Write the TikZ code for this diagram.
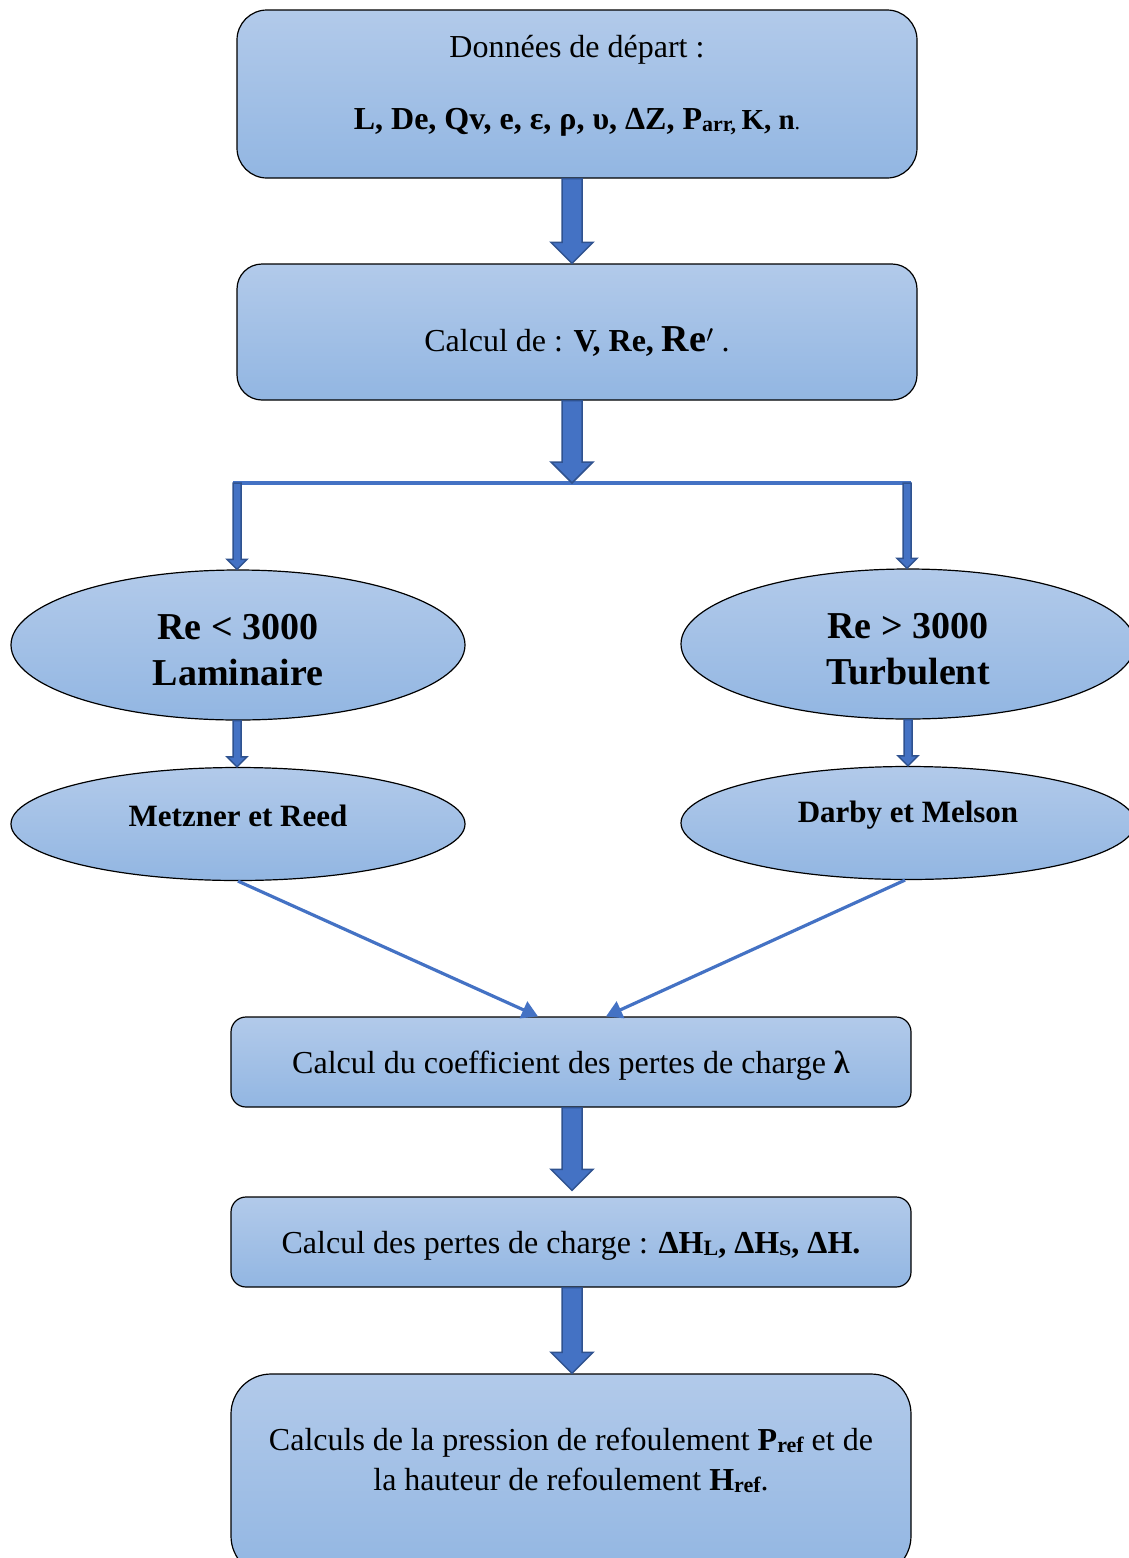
\documentclass[tikz,border=0pt]{standalone}
\usepackage{fontspec}
\setmainfont{Liberation Serif}
\usetikzlibrary{shapes.geometric,arrows.meta,calc}
\definecolor{gtop}{RGB}{178,202,234}
\definecolor{gbot}{RGB}{146,182,226}
\definecolor{abl}{RGB}{68,114,196}
\definecolor{abd}{RGB}{47,82,143}
\newcommand\sbx[1]{\raisebox{-2pt}{\fontsize{22}{22}\selectfont #1}}
\newcommand\blockarr[5]{%
  \draw[blk] let \p1=(#1), \p2=(#2) in
    (\x1-#3,\y1) -- (\x1+#3,\y1) -- (\x1+#3,\y2+#5) -- (\x1+#4,\y2+#5)
    -- (\x1,\y2) -- (\x1-#4,\y2+#5) -- (\x1-#3,\y2+#5) -- cycle;}
\begin{document}
\begin{tikzpicture}[x=1pt,y=-1pt,
  box/.style={draw=black, line width=1.2pt, top color=gtop, bottom color=gbot,
    inner sep=0pt, align=center, font=\fontsize{32}{38}\selectfont},
  oval/.style={ellipse, draw=black, line width=1.2pt, top color=gtop, bottom color=gbot,
    inner sep=0pt, align=center, minimum width=454pt},
  txt/.style={inner sep=0pt, align=center, font=\fontsize{32}{40}\selectfont},
  blk/.style={fill=abl, draw=abd, line width=1.5pt, line join=miter},
  link/.style={draw=abl, line width=3.2pt, -{Triangle[width=18pt,length=16pt]}}]
\clip (0,0) rectangle (1129,1558);
% boxes
\node[box, rounded corners=30pt, minimum width=680pt, minimum height=168pt] (b1) at (577,94) {};
\node[txt] (t1a) at (577,50) {Données de départ :};
\node[txt] (t1b) at (577,122) {\textbf{L, De, Qv, e, ε, ρ, υ, ΔZ, P}\sbx{\bfseries arr,}\,{\bfseries\fontsize{29}{30}\selectfont K, n}{\fontsize{22}{22}\selectfont .}};
\node[box, rounded corners=25pt, minimum width=680pt, minimum height=136pt] (b2) at (577,332)
  {\rule{0pt}{44pt}Calcul de : \textbf{V, Re, }{\fontsize{38}{40}\selectfont\bfseries Re$'$} .};
\node[box, rounded corners=15pt, minimum width=680pt, minimum height=90pt] (b3) at (571,1062)
  {\rule{0pt}{30pt}Calcul du coefficient des pertes de charge \textbf{λ}};
\node[box, rounded corners=15pt, minimum width=680pt, minimum height=90pt] (b4) at (571,1242)
  {\rule{0pt}{30pt}Calcul des pertes de charge : \textbf{ΔH}\sbx{\bfseries L}\textbf{, ΔH}\sbx{\bfseries S}\textbf{, ΔH.}};
\node[box, rounded corners=40pt, minimum width=680pt, minimum height=202pt] (b5) at (571,1475) {};
\node[txt] (t5) at (571,1460) {Calculs de la pression de refoulement \textbf{P}\sbx{\bfseries ref} et de\\la hauteur de refoulement \textbf{H}\sbx{\bfseries ref}.};
% ellipses
\node[oval, minimum height=150pt, font=\fontsize{38}{46}\selectfont\bfseries] (e1) at (238,645) {\rule{0pt}{35pt}Re < 3000\\Laminaire};
\node[oval, minimum height=150pt, font=\fontsize{38}{46}\selectfont\bfseries] (e2) at (908,644) {\rule{0pt}{35pt}Re > 3000\\Turbulent};
\node[oval, minimum height=113pt, font=\fontsize{31}{36}\selectfont\bfseries] (e3) at (238,824) {\rule[-16pt]{0pt}{1pt}Metzner et Reed};
\node[oval, minimum height=113pt, font=\fontsize{31}{36}\selectfont\bfseries] (e4) at (908,823) {\rule[-22pt]{0pt}{1pt}Darby et Melson};
% junction
\coordinate (jc) at (572,483);
\coordinate (jl) at (237,483);
\coordinate (jr) at (907,483);
\draw[abl, line width=4pt] ($(jl)+(-4,0)$) -- ($(jr)+(4,0)$);
% block arrows
\blockarr{$(b1.south)+(-5,0)$}{$(b2.north)+(-5,0)$}{10pt}{21pt}{21pt}
\blockarr{$(b2.south)+(-5,0)$}{jc}{10pt}{21pt}{21pt}
\blockarr{jl}{e1.north}{4pt}{10pt}{10pt}
\blockarr{jr}{e2.north}{4pt}{10pt}{10pt}
\blockarr{$(e1.south)+(-1,0)$}{e3.north}{4pt}{10pt}{10pt}
\blockarr{e2.south}{e4.north}{4pt}{10pt}{10pt}
\blockarr{$(b3.south)+(1,0)$}{$(b4.north)+(0,-6)$}{10pt}{21pt}{21pt}
\blockarr{$(b4.south)+(1,0)$}{b5.north}{10pt}{21pt}{21pt}
% converging links
\draw[link] (e3.south) -- ($(b3.north)+(-33,0)$);
\draw[link] ($(e4.south)+(-3,0)$) -- ($(b3.north)+(35,0)$);
\end{tikzpicture}
\end{document}
